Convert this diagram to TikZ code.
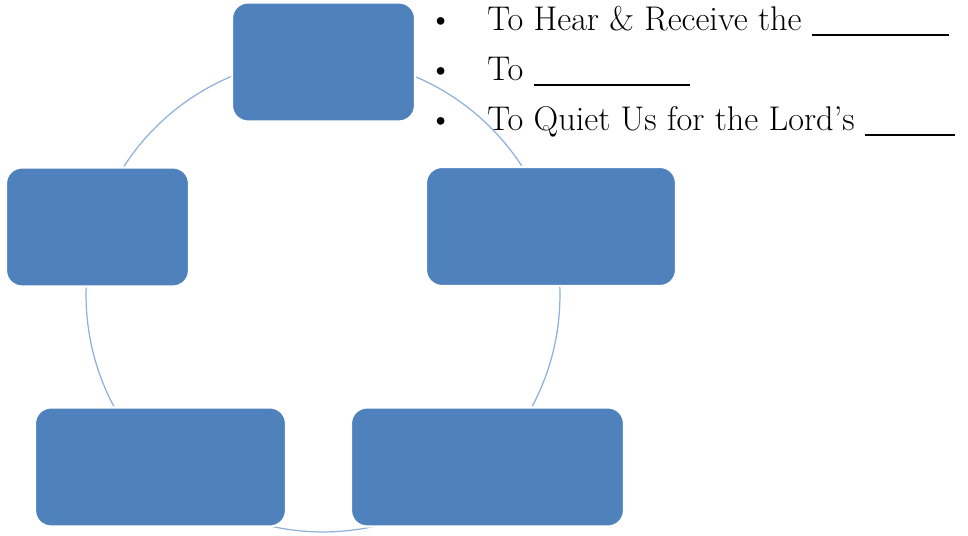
\documentclass[tikz,border=0pt]{standalone}
\usepackage{tikz}
\usetikzlibrary{positioning}

\definecolor{cycleblue}{HTML}{4F81BD}
\definecolor{ringblue}{HTML}{8EB0DA}
\newcommand{\gap}[1]{\rule[-0.14em]{#1}{0.06em}}

\begin{document}
\begin{tikzpicture}[x=0.02cm,y=0.02cm,font=\fontsize{19.5}{24}\selectfont]
	\tikzstyle{phase}=[rectangle,rounded corners=0.32cm,fill=cycleblue,draw=white,line width=1.2pt,minimum height=2.38cm]
	\tikzstyle{goal}=[anchor=base west,inner sep=0pt]
	
	\useasboundingbox (0,0) rectangle (968,536);
	
	% the ring runs behind the boxes
	\coordinate (HUB) at (323,241);
	\draw[ringblue,line width=0.7pt] (HUB) circle[radius=4.74cm];
	
	\node[phase,minimum width=3.66cm] (TOP)    at ([shift={(0.5,233)}]HUB)      {};
	\node[phase,minimum width=3.66cm] (LEFT)   at ([shift={(-225.5,68)}]HUB)    {};
	\node[phase,minimum width=5.00cm] (RIGHT)  at ([shift={(228,68.5)}]HUB)     {};
	\node[phase,minimum width=5.02cm] (BLEFT)  at ([shift={(-162.5,-172)}]HUB)  {};
	\node[phase,minimum width=5.46cm] (BRIGHT) at ([shift={(164.5,-172)}]HUB)   {};
	
	% bullet list
	\node[goal] (HEAR)  at (428,505) {\makebox[1.18cm][l]{\textbullet}To Hear \& Receive the \gap{2.74cm}};
	\node[goal] (TO)    [below=1cm of HEAR.base west,anchor=base west] {\makebox[1.18cm][l]{\textbullet}To \gap{3.12cm}};
	\node[goal] (QUIET) [below=1cm of TO.base west,anchor=base west]   {\makebox[1.18cm][l]{\textbullet}To Quiet Us for the Lord's \gap{1.8cm}};
\end{tikzpicture}
\end{document}
